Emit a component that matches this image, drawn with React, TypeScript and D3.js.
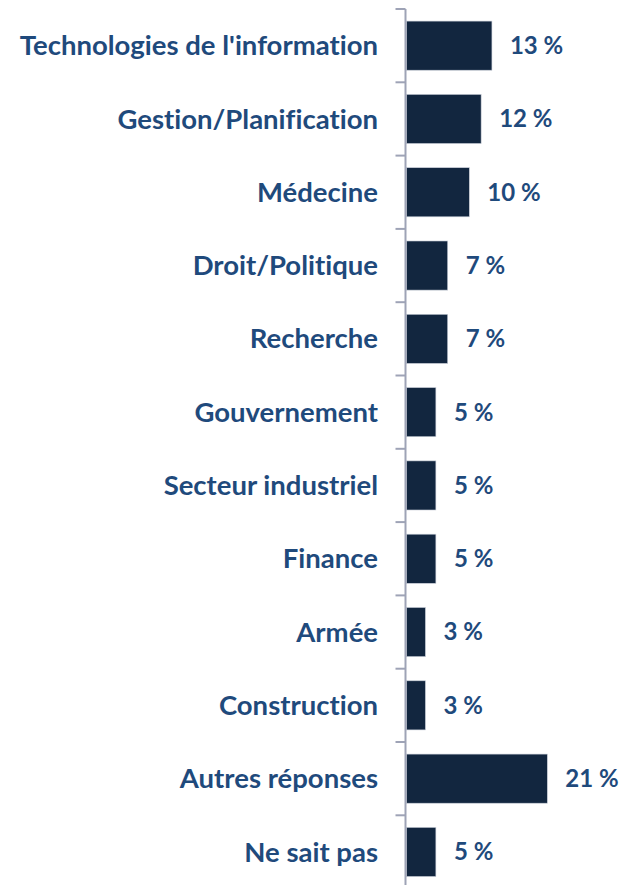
import React, { useEffect, useRef } from "react";
import * as d3 from "d3";

// categories, top to bottom
const categories = [
  "Technologies de l'information",
  "Gestion/Planification",
  "Médecine",
  "Droit/Politique",
  "Recherche",
  "Gouvernement",
  "Secteur industriel",
  "Finance",
  "Armée",
  "Construction",
  "Autres réponses",
  "Ne sait pas",
];

// bar lengths (percent)
const values = [12.8, 11.2, 9.45, 6.25, 6.25, 4.5, 4.5, 4.5, 2.95, 2.95, 21, 4.5];

// value labels as printed
const valueLabels = ["13 %", "12 %", "10 %", "7 %", "7 %", "5 %", "5 %", "5 %", "3 %", "3 %", "21 %", "5 %"];

const App = () => {
  const svgRef = useRef<SVGSVGElement | null>(null);

  useEffect(() => {
    const svg = d3.select(svgRef.current);
    const width = 619;
    const height = 885;
    svg.selectAll("*").remove();

    const axisX = 405.5;
    const top = 9;
    const step = 73.3;

    const y = d3
      .scaleBand<string>()
      .domain(categories)
      .range([top, top + step * categories.length])
      .paddingInner(0.33)
      .paddingOuter(0.165);

    const x = d3.scaleLinear().domain([0, 21]).range([axisX, 547.3]);

    const textColor = "#1f4a7c";
    const barColor = "#12263f";
    const axisColor = "#9ea3b6";
    const font = "Lato, 'Open Sans', sans-serif";

    // bars
    svg
      .append("g")
      .selectAll("rect")
      .data(values)
      .join("rect")
      .attr("x", axisX + 1)
      .attr("y", (d, i) => y(categories[i])!)
      .attr("width", d => x(d) - axisX - 1)
      .attr("height", y.bandwidth())
      .attr("fill", barColor)
      .attr("stroke", "#c9ced8")
      .attr("stroke-width", 0.6);

    // axis line and ticks between categories
    const off = (y.step() - y.bandwidth()) / 2;
    const g = svg.append("g").attr("stroke", axisColor).attr("stroke-width", 2);
    g.append("line")
      .attr("x1", axisX)
      .attr("x2", axisX)
      .attr("y1", top)
      .attr("y2", height);
    g.selectAll("line.tick")
      .data(categories)
      .join("line")
      .attr("class", "tick")
      .attr("x1", axisX - 10)
      .attr("x2", axisX)
      .attr("y1", d => y(d)! - off)
      .attr("y2", d => y(d)! - off);

    // category labels
    svg
      .append("g")
      .selectAll("text")
      .data(categories)
      .join("text")
      .attr("x", 378)
      .attr("y", d => y(d)! + y.bandwidth() / 2)
      .attr("dy", "0.35em")
      .attr("text-anchor", "end")
      .attr("font-family", font)
      .attr("font-weight", "bold")
      .attr("font-size", 27.5)
      .style("font-variant-ligatures", "none")
      .attr("fill", textColor)
      .text(d => d);

    // value labels
    svg
      .append("g")
      .selectAll("text")
      .data(values)
      .join("text")
      .attr("x", d => x(d) + 18)
      .attr("y", (d, i) => y(categories[i])! + y.bandwidth() / 2)
      .attr("dy", "0.35em")
      .attr("font-family", font)
      .attr("font-weight", "bold")
      .attr("font-size", 24)
      .attr("fill", textColor)
      .text((d, i) => valueLabels[i]);

    svg.attr("width", width).attr("height", height);
  }, []);

  return (
    <svg
      ref={svgRef}
      width={619}
      height={885}
      style={{ position: "absolute", left: 0, top: 0, background: "#fff" }}
    />
  );
};

export default App;
